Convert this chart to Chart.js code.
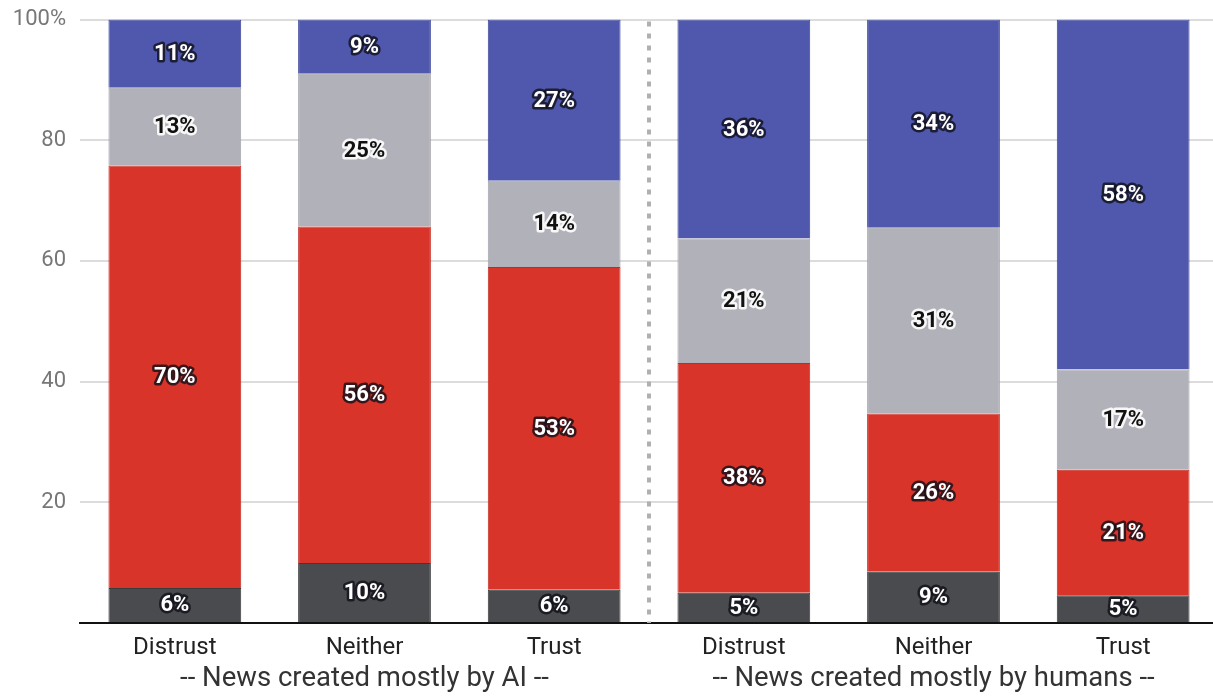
<!DOCTYPE html>
<html>
<head>
<meta charset="utf-8">
<script src="https://cdn.jsdelivr.net/npm/chart.js@4.4.0/dist/chart.umd.min.js"></script>
<style>
  html, body { margin: 0; padding: 0; overflow: hidden; background: #fff; }
  #wrap { width: 1218px; height: 696px; }
</style>
</head>
<body>
<div id="wrap"><canvas id="chart"></canvas></div>
<script>
var categories = ['Distrust', 'Neither', 'Trust', 'Distrust', 'Neither', 'Trust'];
var groups = ['-- News created mostly by AI --', '-- News created mostly by humans --'];

// segment heights (stacked, bottom to top)
var darkValues = [5.8, 9.95, 5.5, 5.0, 8.5, 4.6];
var redValues = [70.0, 55.75, 53.5, 38.1, 26.2, 20.8];
var grayValues = [12.9, 25.3, 14.3, 20.6, 30.8, 16.6];
var blueValues = [11.3, 9.0, 26.7, 36.3, 34.5, 58.0];

// printed labels
var darkLabels = [6, 10, 6, 5, 9, 5];
var redLabels = [70, 56, 53, 38, 26, 21];
var grayLabels = [13, 25, 14, 21, 31, 17];
var blueLabels = [11, 9, 27, 36, 34, 58];

const labelPlugin = {
  id: 'segLabels',
  afterDatasetsDraw(chart) {
    const ctx = chart.ctx;
    ctx.save();
    ctx.font = 'bold 22px Roboto';
    ctx.textAlign = 'center';
    ctx.textBaseline = 'middle';
    ctx.lineJoin = 'round';
    chart.data.datasets.forEach(function(ds, i) {
      const meta = chart.getDatasetMeta(i);
      meta.data.forEach(function(bar, j) {
        const p = bar.getCenterPoint();
        const txt = ds.printed[j] + '%';
        if (ds.darkText) {
          ctx.strokeStyle = 'rgba(255,255,255,0.9)';
          ctx.lineWidth = 5;
          ctx.strokeText(txt, p.x, p.y + 1);
          ctx.fillStyle = '#111';
        } else {
          ctx.strokeStyle = 'rgba(15,15,25,0.8)';
          ctx.lineWidth = 5;
          ctx.strokeText(txt, p.x, p.y + 1);
          ctx.fillStyle = '#fff';
        }
        ctx.fillText(txt, p.x, p.y + 1);
      });
    });
    ctx.restore();
  }
};

const extrasPlugin = {
  id: 'extras',
  beforeDatasetsDraw(chart) {
    const ctx = chart.ctx;
    const x = chart.scales.x;
    const area = chart.chartArea;
    const mid = (x.getPixelForValue(2) + x.getPixelForValue(3)) / 2;
    ctx.save();
    ctx.strokeStyle = '#b0b0b0';
    ctx.lineWidth = 4;
    ctx.setLineDash([5, 7]);
    ctx.beginPath();
    ctx.moveTo(mid, area.top + 2);
    ctx.lineTo(mid, area.bottom);
    ctx.stroke();
    ctx.restore();
  },
  afterDraw(chart) {
    const ctx = chart.ctx;
    const x = chart.scales.x;
    ctx.save();
    ctx.font = '27.5px Roboto';
    ctx.fillStyle = '#333';
    ctx.textAlign = 'center';
    ctx.textBaseline = 'middle';
    groups.forEach(function(g, k) {
      const cx = (x.getPixelForValue(k * 3) + x.getPixelForValue(k * 3 + 2)) / 2;
      ctx.fillText(g, cx, 679);
    });
    ctx.restore();
  }
};

function ds(label, data, printed, color, border, darkText) {
  return {
    label: label,
    data: data,
    printed: printed,
    darkText: darkText,
    backgroundColor: color,
    borderColor: border,
    borderWidth: 1,
    barPercentage: 0.7,
    categoryPercentage: 1.0
  };
}

new Chart(document.getElementById('chart'), {
  type: 'bar',
  data: {
    labels: categories,
    datasets: [
      ds('dark', darkValues, darkLabels, '#4a4b4e', '#3a3b3e', false),
      ds('red', redValues, redLabels, '#d8342a', '#c42a22', false),
      ds('gray', grayValues, grayLabels, '#b1b1b9', '#a2a2aa', true),
      ds('blue', blueValues, blueLabels, '#4f58ad', '#3a4398', false)
    ]
  },
  options: {
    responsive: true,
    maintainAspectRatio: false,
    animation: false,
    layout: { padding: { top: 19.5, left: 0, right: 0, bottom: 0 } },
    plugins: {
      legend: { display: false },
      tooltip: { enabled: false }
    },
    scales: {
      x: {
        stacked: true,
        grid: { display: false, drawTicks: false },
        border: { display: true, color: '#111', width: 2 },
        ticks: {
          color: '#222',
          font: { family: 'Roboto', size: 24 },
          padding: 11,
          maxRotation: 0
        },
        afterFit: function(s) { s.height = 73; s.paddingLeft = 0; s.paddingRight = 0; }
      },
      y: {
        stacked: true,
        min: 0,
        max: 100,
        grid: { color: '#dcdcdc', lineWidth: 2, drawTicks: false },
        border: { display: false },
        ticks: {
          stepSize: 20,
          color: '#777',
          padding: 14,
          font: { family: 'Roboto', size: 22 },
          callback: function(v) {
            if (v === 0) return '';
            if (v === 100) return '100%';
            return v;
          }
        },
        afterFit: function(s) { s.width = 80; s.paddingTop = 0; s.paddingBottom = 0; }
      }
    }
  },
  plugins: [labelPlugin, extrasPlugin]
});
</script>
</body>
</html>
